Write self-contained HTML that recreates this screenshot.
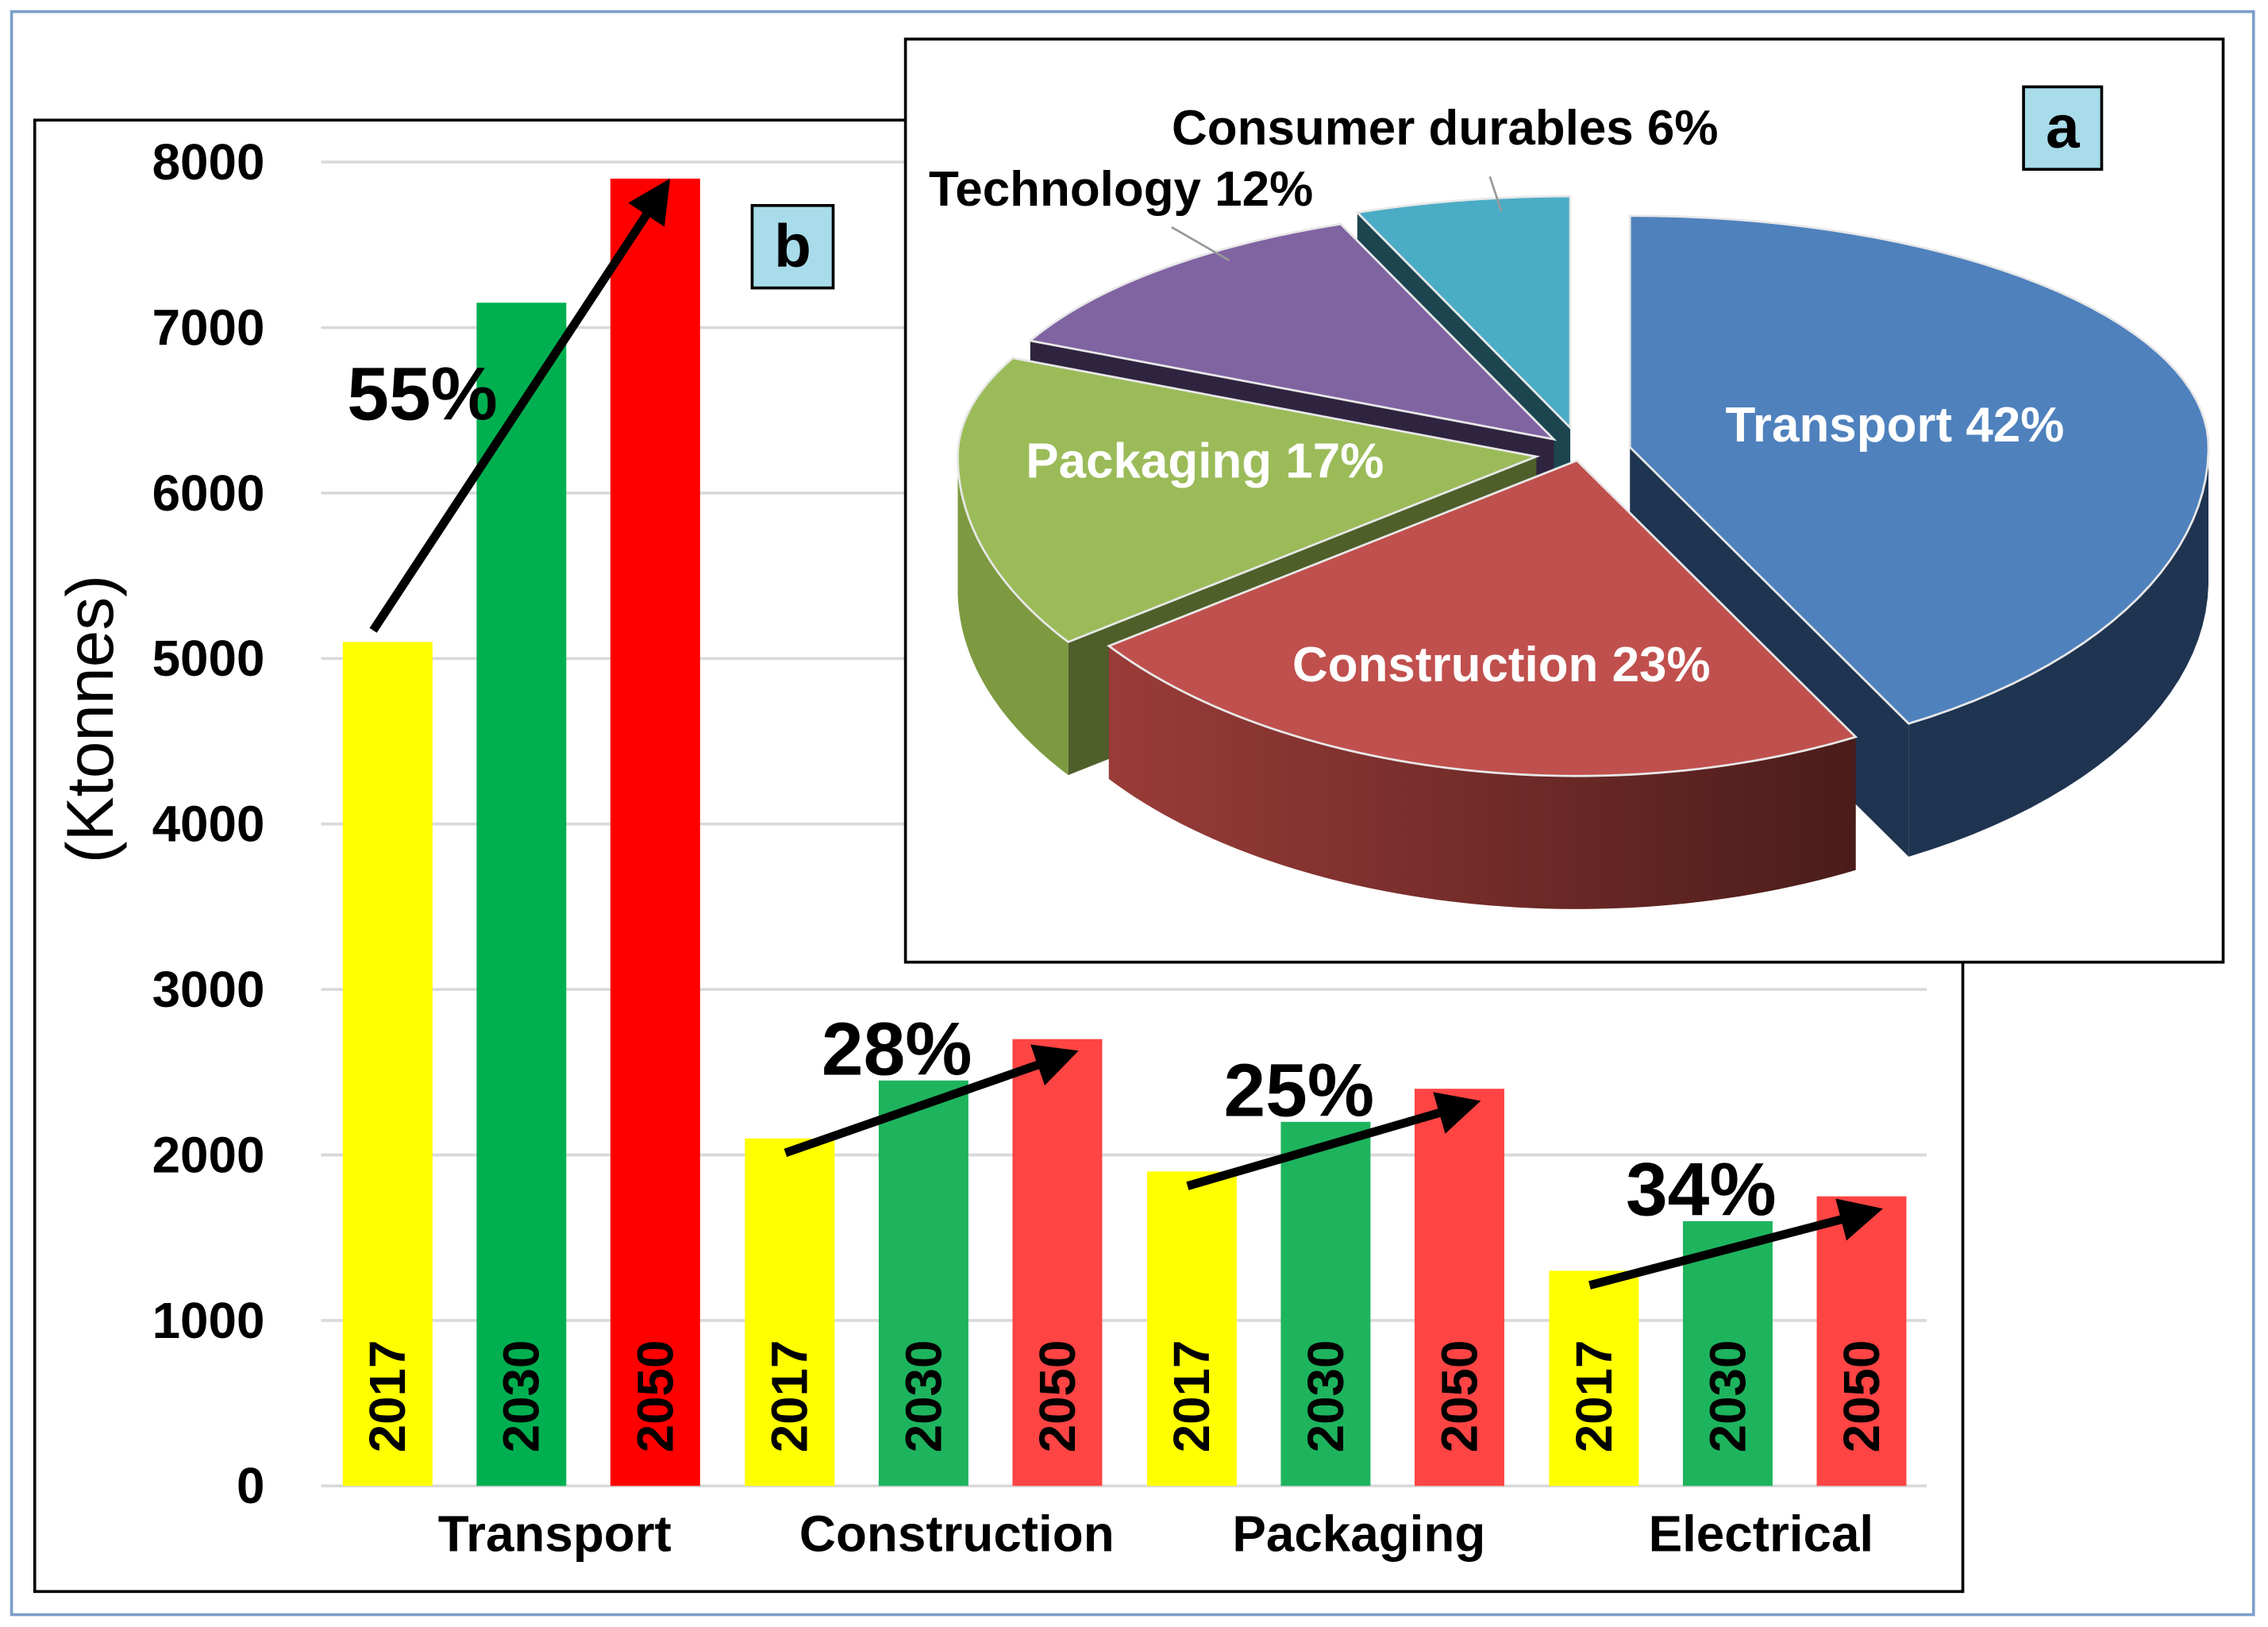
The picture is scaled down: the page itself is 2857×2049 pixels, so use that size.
<!DOCTYPE html>
<html><head><meta charset="utf-8"><style>
html,body{margin:0;padding:0;background:#fff}
svg{display:block}
text{font-family:"Liberation Sans",Arial,sans-serif}
</style></head><body>
<svg id="fig" width="2857" height="2049" viewBox="0 0 1568 1124.5" xmlns="http://www.w3.org/2000/svg">
<defs>
<linearGradient id="gCon" x1="0" x2="1" y1="0" y2="0"><stop offset="0" stop-color="#9a3c39"/><stop offset="1" stop-color="#4a1c1a"/></linearGradient>
<marker id="ah" viewBox="0 0 10 10" refX="8" refY="5" markerWidth="5" markerHeight="5" orient="auto"><path d="M0,0 L10,5 L0,10 z" fill="#000"/></marker>
</defs>
<rect x="8" y="8" width="1550" height="1108" fill="none" stroke="#7c9fcb" stroke-width="2"/>
<rect x="24" y="83" width="1333" height="1017" fill="#fff" stroke="#000" stroke-width="2"/>
<g id="bars"></g>
<rect x="626" y="27" width="911" height="638" fill="#fff" stroke="#000" stroke-width="2"/>
<g id="pie"></g>
<rect x="1399" y="60" width="54" height="57" fill="#a8dcea" stroke="#000" stroke-width="2"/>
<text x="1426" y="102" font-size="42" font-weight="bold" text-anchor="middle">a</text>
<rect x="520" y="142" width="56" height="57" fill="#a8dcea" stroke="#000" stroke-width="2"/>
<text x="548" y="184" font-size="42" font-weight="bold" text-anchor="middle">b</text>
</svg>
<script>
const NS='http://www.w3.org/2000/svg';
const categories=['Transport','Construction','Packaging','Electrical'];
const years=['2017','2030','2050'];
const v2017=[5100,2100,1900,1300];
const v2030=[7150,2450,2200,1600];
const v2050=[7900,2700,2400,1750];
const growthLabels=['55%','28%','25%','34%'];
const yTicks=[0,1000,2000,3000,4000,5000,6000,7000,8000];
const pieLabels=['Transport 42%','Construction 23%','Packaging 17%','Technology 12%','Consumer durables 6%'];
const pieValues=[42,23,17,12,6];

function mk(tag,attrs,parent){const e=document.createElementNS(NS,tag);for(const k in attrs)e.setAttribute(k,attrs[k]);parent.appendChild(e);return e;}
const bars=document.getElementById('bars');
const y0=1027,yTop=112,vMax=8000;
function Y(v){return y0-(v/vMax)*(y0-yTop);}
const groupX0=237,groupStep=278,barW=62,barStep=92.5;
function X(ci,yi){return groupX0+ci*groupStep+yi*barStep;}

yTicks.forEach(t=>{
  const l=mk('line',{x1:222,x2:1332,y1:Y(t),y2:Y(t),stroke:'#d9d9d9','stroke-width':2},bars);
  
  
  const tx=mk('text',{x:183,y:Y(t)+12,'font-size':35,'font-weight':'bold','text-anchor':'end'},bars);
  tx.textContent=t;
  
  
});
const yt=mk('text',{x:0,y:0,'font-size':46,'text-anchor':'middle',transform:'translate(78,497) rotate(-90)'},bars);
yt.textContent='(Ktonnes)';



const series=[v2017,v2030,v2050];
const colsT=['#ffff00','#00b050','#ff0000'];
const colsO=['#ffff00','#1eb45e','#ff4444'];
categories.forEach((c,ci)=>{
  series.forEach((s,yi)=>{
    const x=X(ci,yi);
    const r=mk('rect',{x:x,y:Y(s[ci]),width:barW,height:y0-Y(s[ci]),fill:ci===0?colsT[yi]:colsO[yi]},bars);
    
    
    const t=mk('text',{x:0,y:0,'font-size':35,'font-weight':'bold','text-anchor':'start',transform:'translate('+(x+barW/2+12)+',1004) rotate(-90)'},bars);
    t.textContent=years[yi];
    
    
  });
  const cl=mk('text',{x:X(ci,1)+barW/2+23,y:1072,'font-size':35,'font-weight':'bold','text-anchor':'middle'},bars);
  cl.textContent=c;
  
  
  const xa=ci===0?X(ci,0)+21:X(ci,0)+28, ya=ci===0?Y(series[0][ci])-8:Y(series[0][ci])+10;
  const xb=X(ci,2)+(ci===0?38:40), yb=Y(series[2][ci])+(ci===0?5:10);
  const a=mk('line',{x1:xa,y1:ya,x2:xb,y2:yb,stroke:'#000','stroke-width':6,'marker-end':'url(#ah)'},bars);
  
  
  const gl=mk('text',{x:ci===0?240:X(ci,0)+53,y:ci===0?290:Y(series[1][ci])-4,'font-size':52,'font-weight':'bold'},bars);
  gl.textContent=growthLabels[ci];
  
  
});

const pie=document.getElementById('pie');
const C=[1092,314],rx=400,ryT=160,ryB=218,depth=92;
const tops=['#4f81bd','#c0504d','#9bbb59','#8064a2','#4bacc6'];
const sides=['#1f3450','url(#gCon)','#4f5f2a','#2f2440','#1c4550'];
const explode=[36,8,30,26,34];
function P(cx,cy,a){const s=Math.sin(a);return [cx+rx*Math.cos(a),cy+(s<0?ryT:ryB)*s];}
const total=pieValues.reduce((a,b)=>a+b,0);
let ang=-Math.PI/2;const sl=[];
pieValues.forEach((v,i)=>{const a1=ang,a2=ang+v/total*2*Math.PI;ang=a2;const m=(a1+a2)/2;
  sl.push({i,a1,a2,cx:C[0]+explode[i]*Math.cos(m),cy:C[1]+explode[i]*0.55*Math.sin(m)});});
const order=[4,3,2,0,1];
order.forEach(i=>{const s=sl[i];const g=mk('g',{},pie);
  
  
  const N=60;let top='M'+s.cx+','+s.cy;const arc=[];
  for(let k=0;k<=N;k++){const a=s.a1+(s.a2-s.a1)*k/N;arc.push(P(s.cx,s.cy,a));}
  [s.a1,s.a2].forEach(a=>{const p=P(s.cx,s.cy,a);
    mk('path',{d:`M${s.cx},${s.cy}L${p[0]},${p[1]}L${p[0]},${p[1]+depth}L${s.cx},${s.cy+depth}Z`,fill:i===1?'#4a1c1a':sides[i]},g);});
  const front=arc.filter((p,k)=>{const a=s.a1+(s.a2-s.a1)*k/N;return Math.sin(a)>=-0.02;});
  if(front.length>1){let d='M'+front.map(p=>p[0]+','+p[1]).join('L');
    d+='L'+front.slice().reverse().map(p=>p[0]+','+(p[1]+depth)).join('L')+'Z';
    mk('path',{d:d,fill:i===2?'#7d9a40':sides[i]},g);}
  top+='L'+arc.map(p=>p[0]+','+p[1]).join('L')+'Z';
  mk('path',{d:top,fill:tops[i],stroke:'#e8e8e8','stroke-width':1.5},g);
});
const lblPos=[[1310,305,'#fff'],[1038,471,'#fff'],[833,330,'#fff'],[775,142,'#000'],[999,100,'#000']];
pieLabels.forEach((t,i)=>{const e=mk('text',{x:lblPos[i][0],y:lblPos[i][1],'font-size':34,'font-weight':'bold','text-anchor':'middle',fill:lblPos[i][2]},pie);
  e.textContent=t;
  
  });
[[810,157,850,180],[1030,122,1038,146]].forEach(l=>{const e=mk('line',{x1:l[0],y1:l[1],x2:l[2],y2:l[3],stroke:'#999','stroke-width':1.5},pie);
  
  });
</script>
</body></html>
